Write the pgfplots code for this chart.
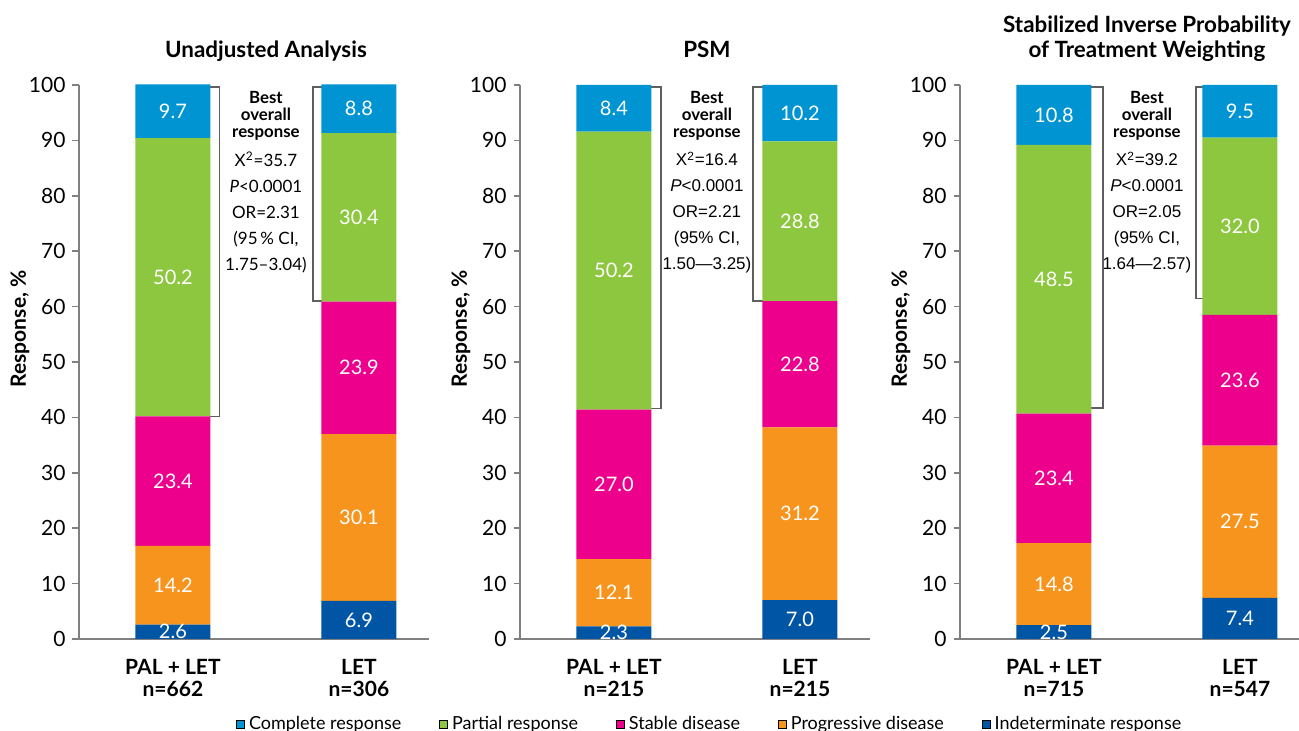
\documentclass[border=0pt]{standalone}
\usepackage{fontspec}
\setmainfont{Lato}
\newfontfamily\statfont{Liberation Sans}
\usepackage{pgfplots}
\pgfplotsset{compat=1.18}

% Response category colours
\definecolor{cComplete}{RGB}{0,148,210}
\definecolor{cPartial}{RGB}{141,198,63}
\definecolor{cStable}{RGB}{236,0,140}
\definecolor{cProgressive}{RGB}{247,148,29}
\definecolor{cIndeterminate}{RGB}{0,85,165}
\definecolor{axisgray}{RGB}{128,128,128}
\definecolor{bracketgray}{RGB}{95,95,95}

\pgfplotsset{
  response panel/.style={
    scale only axis,
    width=175pt, height=277pt,
    anchor=south west,
    ybar stacked,
    bar width=0.403,
    enlargelimits=false,
    xmin=-0.505, xmax=1.3767,
    ymin=0, ymax=100,
    clip=false,
    axis x line=bottom, axis y line=left,
    axis line style={axisgray, line width=0.8pt, -},
    xtick={0,1},
    major x tick style={draw=none},
    ytick={0,10,...,100},
    tick align=outside,
    major tick length=3.25pt,
    y tick style={axisgray, line width=0.8pt},
    /pgf/number format/assume math mode=true,
    yticklabel style={font=\fontsize{10.5}{12}\selectfont},
    xticklabel style={align=center, font=\bfseries\fontsize{10.5}{11}\selectfont, yshift=-3.5pt},
    ylabel={Response, \%},
    ylabel style={at={(axis description cs:-0.1686,0.5596)}, anchor=center,
                  font=\bfseries\fontsize{10.5}{12}\selectfont},
    % white value label inside each segment
    point meta=explicit symbolic,
    nodes near coords,
    nodes near coords style={anchor=center, text=white,
                             font=\fontsize{10}{11}\selectfont},
  },
  seg/.style={fill=#1, draw=none, forget plot},
}
\tikzset{
  bracket/.style={bracketgray, line width=0.75pt},
  annohead/.style={anchor=north, align=center, inner sep=0pt,
                   font=\bfseries\fontsize{8.4}{8.5}\selectfont},
  annostat/.style={anchor=north, align=center, inner sep=0pt,
                   font=\fontsize{8.5}{13}\selectfont},
  paneltitle/.style={anchor=base, inner sep=0pt,
                     font=\bfseries\fontsize{11.2}{12}\selectfont},
}

\begin{document}
\begin{tikzpicture}
\useasboundingbox (0,0) rectangle (649.5pt,365.5pt);

% ---------------- Unadjusted analysis ----------------
\begin{axis}[response panel, at={(39.5pt,46pt)},
  xticklabels={{PAL + LET\\n=662},{LET\\n=306}},
  legend columns=5,
  legend style={at={(axis description cs:1.805,-0.155)}, anchor=center,
    draw=none, fill=none, font=\fontsize{9}{10}\selectfont,
    /tikz/every even column/.append style={column sep=17pt}},
  legend image code/.code={\fill[#1] (0pt,-2pt) rectangle (4pt,2pt);},
]
\addplot[seg=cIndeterminate] coordinates {(0,2.6) [2.6] (1,6.9) [6.9]};
\addplot[seg=cProgressive]   coordinates {(0,14.2) [14.2] (1,30.1) [30.1]};
\addplot[seg=cStable]        coordinates {(0,23.4) [23.4] (1,23.9) [23.9]};
\addplot[seg=cPartial]       coordinates {(0,50.2) [50.2] (1,30.4) [30.4]};
\addplot[seg=cComplete]      coordinates {(0,9.7) [9.7] (1,8.8) [8.8]};
\addlegendimage{fill=cComplete}      \addlegendentry{Complete response}
\addlegendimage{fill=cPartial}       \addlegendentry{Partial response}
\addlegendimage{fill=cStable}        \addlegendentry{Stable disease}
\addlegendimage{fill=cProgressive}   \addlegendentry{Progressive disease}
\addlegendimage{fill=cIndeterminate} \addlegendentry{Indeterminate response}
\draw[bracket] (axis cs:0.2,99.6) -- (axis cs:0.25,99.6) -- (axis cs:0.25,40.2) -- (axis cs:0.2,40.2);
\draw[bracket] (axis cs:0.8,99.6) -- (axis cs:0.753,99.6) -- (axis cs:0.753,61.0) -- (axis cs:0.8,61.0);
\node[annohead] at (axis cs:0.5,98.9) {Best\\overall\\response};
\node[annostat] at (axis cs:0.5,88.0) {X\textsuperscript{2}=35.7\\\textit{P}<0.0001\\OR=2.31\\(95\,\% CI,\\1.75–3.04)};
\node[paneltitle] at (axis cs:0.5,104.9) {Unadjusted Analysis};
\end{axis}

% ---------------- Propensity score matching ----------------
\begin{axis}[response panel, at={(260pt,46pt)},
  xticklabels={{PAL + LET\\n=215},{LET\\n=215}}]
\addplot[seg=cIndeterminate] coordinates {(0,2.3) [2.3] (1,7.0) [7.0]};
\addplot[seg=cProgressive]   coordinates {(0,12.1) [12.1] (1,31.2) [31.2]};
\addplot[seg=cStable]        coordinates {(0,27.0) [27.0] (1,22.8) [22.8]};
\addplot[seg=cPartial]       coordinates {(0,50.2) [50.2] (1,28.8) [28.8]};
\addplot[seg=cComplete]      coordinates {(0,8.4) [8.4] (1,10.2) [10.2]};
\draw[bracket] (axis cs:0.2,99.6) -- (axis cs:0.253,99.6) -- (axis cs:0.253,41.6) -- (axis cs:0.2,41.6);
\draw[bracket] (axis cs:0.8,99.6) -- (axis cs:0.748,99.6) -- (axis cs:0.748,61.0) -- (axis cs:0.8,61.0);
\node[annohead] at (axis cs:0.5,98.9) {Best\\overall\\response};
\node[annostat, font=\statfont\fontsize{8.5}{13}\selectfont] at (axis cs:0.5,88.0)
  {X\textsuperscript{2}=16.4\\\textit{P}<0.0001\\OR=2.21\\(95\% CI,\\1.50—3.25)};
\node[paneltitle] at (axis cs:0.5,104.9) {PSM};
\end{axis}

% ---------------- Stabilized IPTW ----------------
\begin{axis}[response panel, at={(480pt,46pt)},
  xticklabels={{PAL + LET\\n=715},{LET\\n=547}}]
\addplot[seg=cIndeterminate] coordinates {(0,2.5) [2.5] (1,7.4) [7.4]};
\addplot[seg=cProgressive]   coordinates {(0,14.8) [14.8] (1,27.5) [27.5]};
\addplot[seg=cStable]        coordinates {(0,23.4) [23.4] (1,23.6) [23.6]};
\addplot[seg=cPartial]       coordinates {(0,48.5) [48.5] (1,32.0) [32.0]};
\addplot[seg=cComplete]      coordinates {(0,10.8) [10.8] (1,9.5) [9.5]};
\draw[bracket] (axis cs:0.2,99.6) -- (axis cs:0.264,99.6) -- (axis cs:0.264,41.7) -- (axis cs:0.2,41.7);
\draw[bracket] (axis cs:0.8,99.6) -- (axis cs:0.764,99.6) -- (axis cs:0.764,61.5) -- (axis cs:0.8,61.5);
\node[annohead] at (axis cs:0.5,98.9) {Best\\overall\\response};
\node[annostat, font=\statfont\fontsize{8.5}{13}\selectfont] at (axis cs:0.5,88.0)
  {X\textsuperscript{2}=39.2\\\textit{P}<0.0001\\OR=2.05\\(95\% CI,\\1.64—2.57)};
\node[paneltitle] at (axis cs:0.5,109.4) {Stabilized Inverse Probability};
\node[paneltitle] at (axis cs:0.5,104.9) {of Treatment Weighting};
\end{axis}
\end{tikzpicture}
\end{document}
